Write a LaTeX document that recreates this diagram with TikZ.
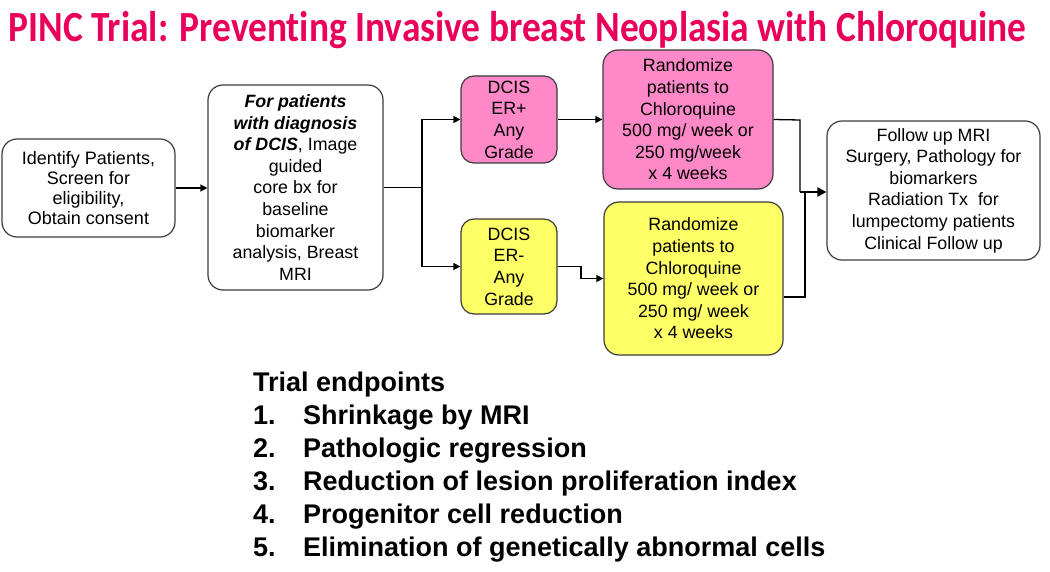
\documentclass[tikz,border=0pt]{standalone}
\usepackage{fontspec}
\setmainfont{Liberation Sans}
\newfontfamily\titlefont[Ligatures=NoCommon]{Carlito}
\usetikzlibrary{arrows.meta}
\definecolor{titlered}{RGB}{232,0,90}
\definecolor{boxpink}{RGB}{255,136,200}
\definecolor{boxyellow}{RGB}{255,255,102}
\definecolor{edge}{RGB}{60,60,60}
\tikzset{
  box/.style={draw=edge, line width=1.2pt, rounded corners=15pt, align=center, inner sep=0pt,
    font=\fontsize{17.8}{21.6}\selectfont},
  pinkbox/.style={box, fill=boxpink},
  yellowbox/.style={box, fill=boxyellow},
  conn/.style={line width=1.3pt, black},
  arr/.style={conn, -{Triangle[length=7pt,width=7pt]}},
}
\begin{document}
\begin{tikzpicture}[x=1pt,y=-1pt]
\useasboundingbox (0,0) rectangle (1050,572);
\node[text=titlered, inner sep=0pt] (title) at (517.5,30)
  {\scalebox{1}[1.15]{\titlefont\bfseries\fontsize{37.4}{40}\selectfont PINC Trial: Preventing Invasive breast Neoplasia with Chloroquine}};

\node[box, minimum width=173pt, minimum height=98pt, font=\fontsize{18}{19.8}\selectfont] (b1) at (88.5,188)
  {Identify Patients,\\ Screen for\\ eligibility,\\ Obtain consent};
\node[box, minimum width=175pt, minimum height=205pt] (b2) at (295.5,187.5)
  {\textbf{\textit{For patients}}\\ \textbf{\textit{with diagnosis}}\\ \textbf{\textit{of DCIS}}, Image\\ guided\\ core bx for\\ baseline\\ biomarker\\ analysis, Breast\\ MRI};
\node[pinkbox, rounded corners=13pt, minimum width=96pt, minimum height=87pt] (erp) at (509,119.5)
  {DCIS\\ ER+\\ Any\\ Grade};
\node[yellowbox, rounded corners=13pt, minimum width=96pt, minimum height=95pt] (erm) at (509,266.5)
  {DCIS\\ ER-\\ Any\\ Grade};
\node[pinkbox, minimum width=170pt, minimum height=139pt] (rp) at (688,119.5)
  {Randomize\\ patients to\\ Chloroquine\\ 500 mg/ week or\\ 250 mg/week\\ x 4 weeks};
\node[yellowbox, minimum width=179pt, minimum height=153pt] (ry) at (693.5,278.5)
  {Randomize\\ patients to\\ Chloroquine\\ 500 mg/ week or\\ 250 mg/ week\\ x 4 weeks};
\node[box, minimum width=213pt, minimum height=139pt] (fu) at (933.5,190.5)
  {Follow up MRI\\ Surgery, Pathology for\\ biomarkers\\ Radiation Tx\ \ for\\ lumpectomy patients\\ Clinical Follow up};

\coordinate (split) at (422,187.5);
\coordinate (step) at (581,266.5);
\coordinate (mpink) at (800,120);
\coordinate (myel) at (805,297);
\coordinate (merge) at (800,192);

\draw[arr] (b1.east) -- (b1.east -| b2.west);
\draw[conn] (b2.east |- split) -- (split);
\draw[arr] (split) |- (erp.west);
\draw[arr] (split) |- (erm.west);
\draw[arr] (erp.east) -- (rp.west);
\draw[arr] (erm.east) -- (step) |- (ry.west);
\draw[conn] (rp.east) -- (mpink) -- (merge);
\draw[conn] ([yshift=-18.5pt]ry.east) -- (myel) -- (myel |- merge);
\draw[-{Triangle[length=9pt,width=9pt]}, line width=2.2pt] (merge) -- (fu.west |- merge);

\node[anchor=north west, inner sep=0pt, font=\bfseries\fontsize{27}{33}\selectfont] (ep) at (253,368)
  {\begin{tabular}{@{}p{50pt}@{}l@{}}
   \multicolumn{2}{@{}l@{}}{Trial endpoints}\\
   1. & Shrinkage by MRI\\
   2. & Pathologic regression\\
   3. & Reduction of lesion proliferation index\\
   4. & Progenitor cell reduction\\
   5. & Elimination of genetically abnormal cells
   \end{tabular}};
\end{tikzpicture}
\end{document}
